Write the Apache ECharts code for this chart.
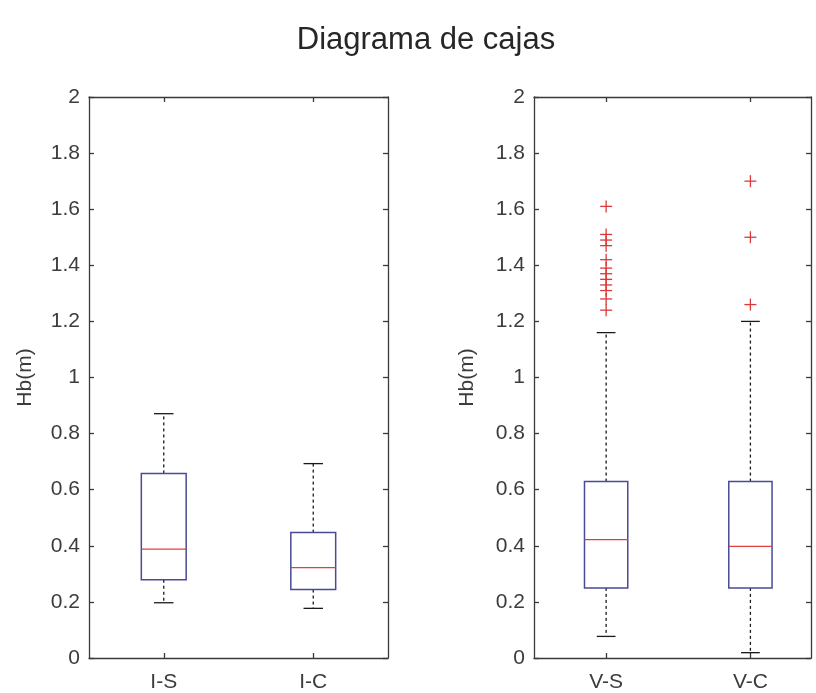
<!DOCTYPE html>
<html>
<head>
<meta charset="utf-8">
<script src="https://cdn.jsdelivr.net/npm/echarts@6/dist/echarts.min.js"></script>
<style>
html,body{margin:0;padding:0;background:#fff;}
#chart{width:816px;height:693px;}
</style>
</head>
<body>
<div id="chart"></div>
<script>
// ---- data ----
const titleText = 'Diagrama de cajas';
const yAxisName = 'Hb(m)';
const leftCategories = ['I-S', 'I-C'];
const rightCategories = ['V-S', 'V-C'];
// each box: [lower whisker, Q1, median, Q3, upper whisker]
const leftBoxes = [
  [0.197, 0.279, 0.388, 0.658, 0.871],
  [0.177, 0.244, 0.322, 0.447, 0.693]
];
const rightBoxes = [
  [0.077, 0.250, 0.422, 0.629, 1.160],
  [0.019, 0.250, 0.398, 0.629, 1.200]
];
const vsOutliers = [1.61, 1.51, 1.49, 1.47, 1.42, 1.39, 1.37, 1.35, 1.33, 1.31, 1.28, 1.24];
const vcOutliers = [1.70, 1.50, 1.26];
const yMin = 0, yMax = 2, yStep = 0.2;

// ---- styling ----
const FONT = 'Liberation Sans, Arial, Helvetica, sans-serif';
const AXIS_COLOR = '#3a3a3a';
const TEXT_COLOR = '#3c3c3c';
const BOX_COLOR = '#4a4a96';
const MED_COLOR = '#e0403a';
const OUT_COLOR = '#d83a3a';
const BOX_W = 0.30, CAP_W = 0.13;
const FS = 21;

const boxData = (boxes) => boxes.map((b, i) => [i + 1].concat(b));
const outData = (vals, pos) => vals.map(v => [pos, v]);

function renderBox(params, api) {
  const x = api.value(0);
  const lo = api.coord([x, api.value(1)]);
  const q1 = api.coord([x, api.value(2)]);
  const md = api.coord([x, api.value(3)]);
  const q3 = api.coord([x, api.value(4)]);
  const hi = api.coord([x, api.value(5)]);
  const hw = api.size([BOX_W, 0])[0] / 2;
  const cw = api.size([CAP_W, 0])[0] / 2;
  const cx = lo[0];
  const dash = {stroke: '#1a1a1a', lineWidth: 1.3, lineDash: [3, 3]};
  const solid = {stroke: '#1a1a1a', lineWidth: 1.3};
  return {
    type: 'group',
    children: [
      {type: 'line', shape: {x1: cx, y1: q3[1], x2: cx, y2: hi[1]}, style: dash},
      {type: 'line', shape: {x1: cx, y1: q1[1], x2: cx, y2: lo[1]}, style: dash},
      {type: 'line', shape: {x1: cx - cw, y1: hi[1], x2: cx + cw, y2: hi[1]}, style: solid},
      {type: 'line', shape: {x1: cx - cw, y1: lo[1], x2: cx + cw, y2: lo[1]}, style: solid},
      {type: 'rect', shape: {x: cx - hw, y: q3[1], width: 2 * hw, height: q1[1] - q3[1]},
        style: {fill: 'none', stroke: BOX_COLOR, lineWidth: 1.5}},
      {type: 'line', shape: {x1: cx - hw, y1: md[1], x2: cx + hw, y2: md[1]},
        style: {stroke: MED_COLOR, lineWidth: 1.3}}
    ]
  };
}

function renderPlus(params, api) {
  const p = api.coord([api.value(0), api.value(1)]);
  const s = 6;
  const st = {stroke: OUT_COLOR, lineWidth: 1.3};
  return {
    type: 'group',
    children: [
      {type: 'line', shape: {x1: p[0] - s, y1: p[1], x2: p[0] + s, y2: p[1]}, style: st},
      {type: 'line', shape: {x1: p[0], y1: p[1] - s, x2: p[0], y2: p[1] + s}, style: st}
    ]
  };
}

const yLabelFmt = v => String(+(+v).toFixed(1));

function bottomX(gridIndex, cats, max) {
  return {
    type: 'value', gridIndex, min: 0.5, max,
    position: 'bottom',
    axisLine: {show: true, onZero: false, lineStyle: {color: AXIS_COLOR, width: 1.3}},
    axisTick: {show: true, inside: true, length: 5, customValues: [1, 2], lineStyle: {color: AXIS_COLOR, width: 1.3}},
    axisLabel: {show: true, customValues: [1, 2], formatter: v => cats[Math.round(v) - 1] || '',
      color: TEXT_COLOR, fontFamily: FONT, fontSize: FS, margin: 14},
    splitLine: {show: false}
  };
}
function topX(gridIndex, max) {
  return {
    type: 'value', gridIndex, min: 0.5, max,
    position: 'top',
    axisLine: {show: true, onZero: false, lineStyle: {color: AXIS_COLOR, width: 1.3}},
    axisTick: {show: true, inside: true, length: 5, customValues: [1, 2], lineStyle: {color: AXIS_COLOR, width: 1.3}},
    axisLabel: {show: false},
    splitLine: {show: false}
  };
}
function leftY(gridIndex, nameGap) {
  return {
    type: 'value', gridIndex, min: yMin, max: yMax, interval: yStep,
    position: 'left',
    name: yAxisName, nameLocation: 'middle', nameGap, nameRotate: 90,
    nameTextStyle: {color: TEXT_COLOR, fontFamily: FONT, fontSize: FS},
    axisLine: {show: true, onZero: false, lineStyle: {color: AXIS_COLOR, width: 1.3}},
    axisTick: {show: true, inside: true, length: 5, lineStyle: {color: AXIS_COLOR, width: 1.3}},
    axisLabel: {formatter: yLabelFmt, color: TEXT_COLOR, fontFamily: FONT, fontSize: FS, margin: 9},
    splitLine: {show: false}
  };
}
function rightY(gridIndex) {
  return {
    type: 'value', gridIndex, min: yMin, max: yMax, interval: yStep,
    position: 'right',
    axisLine: {show: true, onZero: false, lineStyle: {color: AXIS_COLOR, width: 1.3}},
    axisTick: {show: true, inside: true, length: 5, lineStyle: {color: AXIS_COLOR, width: 1.3}},
    axisLabel: {show: false},
    splitLine: {show: false}
  };
}

const chart = echarts.init(document.getElementById('chart'), null, {renderer: 'canvas'});
chart.setOption({
  backgroundColor: '#ffffff',
  animation: false,
  title: {
    text: titleText, left: 421, top: 20, textAlign: 'center',
    textStyle: {color: '#262626', fontFamily: FONT, fontSize: 31, fontWeight: 'normal'}
  },
  grid: [
    {left: 89, top: 97, width: 299, height: 561},
    {left: 534, top: 97, width: 277, height: 561}
  ],
  xAxis: [
    bottomX(0, leftCategories, 2.5),
    bottomX(1, rightCategories, 2.42),
    topX(0, 2.5),
    topX(1, 2.42)
  ],
  yAxis: [
    leftY(0, 53),
    leftY(1, 56),
    rightY(0),
    rightY(1)
  ],
  series: [
    {type: 'custom', name: 'I', xAxisIndex: 0, yAxisIndex: 0, renderItem: renderBox,
      data: boxData(leftBoxes), encode: {x: 0, y: [1, 2, 3, 4, 5]}},
    {type: 'custom', name: 'V', xAxisIndex: 1, yAxisIndex: 1, renderItem: renderBox,
      data: boxData(rightBoxes), encode: {x: 0, y: [1, 2, 3, 4, 5]}},
    {type: 'custom', name: 'V-S out', xAxisIndex: 1, yAxisIndex: 1, renderItem: renderPlus,
      data: outData(vsOutliers, 1), encode: {x: 0, y: 1}},
    {type: 'custom', name: 'V-C out', xAxisIndex: 1, yAxisIndex: 1, renderItem: renderPlus,
      data: outData(vcOutliers, 2), encode: {x: 0, y: 1}}
  ]
});
</script>
</body>
</html>
